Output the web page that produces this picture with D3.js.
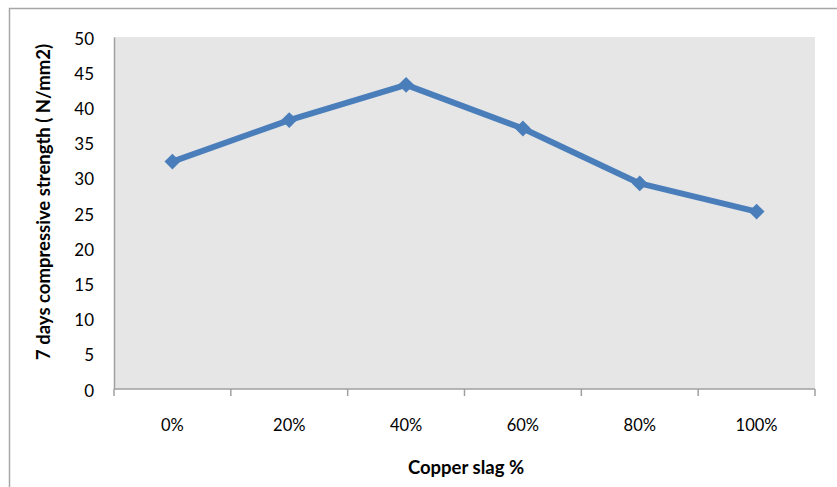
<!DOCTYPE html>
<html>
<head>
<meta charset="utf-8">
<script src="https://cdn.jsdelivr.net/npm/d3@7"></script>
<style>
  html, body { margin: 0; padding: 0; background: #fff; }
  svg { display: block; }
  text { font-family: Lato, "Open Sans", sans-serif; fill: #000; }
</style>
</head>
<body>
<svg id="chart" width="837" height="487"></svg>
<script>
// Copper slag replacement level vs. 7-day compressive strength
const categories = ["0%", "20%", "40%", "60%", "80%", "100%"];
const strength = [32.3, 38.2, 43.2, 37.0, 29.2, 25.2];
const yTicks = [0, 5, 10, 15, 20, 25, 30, 35, 40, 45, 50];

const width = 837, height = 487;
const margin = { top: 37, right: 22, bottom: 98, left: 114 };
const svg = d3.select("#chart");

// outer frame (top and left edges)
svg.append("path")
  .attr("d", `M9.5,${height} V8.5 H${width}`)
  .attr("fill", "none")
  .attr("stroke", "#a6a6a6")
  .attr("stroke-width", 1.5);

const x = d3.scaleBand()
  .domain(categories)
  .range([margin.left, width - margin.right])
  .paddingInner(0).paddingOuter(0);

const y = d3.scaleLinear()
  .domain([0, 50])
  .range([height - margin.bottom, margin.top]);

// plot area
svg.append("rect")
  .attr("x", margin.left)
  .attr("y", margin.top)
  .attr("width", width - margin.right - margin.left)
  .attr("height", height - margin.bottom - margin.top)
  .attr("fill", "#e6e6e6");

// y axis: line and labels, no tick marks
const yAxis = svg.append("g")
  .attr("transform", `translate(${margin.left},0)`)
  .call(d3.axisLeft(y).tickValues(yTicks).tickSize(0).tickPadding(20));
yAxis.select(".domain").attr("stroke", "#a0a0a0").attr("stroke-width", 1.5);
yAxis.selectAll("text")
  .attr("font-size", 17)
  .attr("font-family", "Lato, sans-serif")
  .attr("dy", "0.42em");

// x axis: ticks at category boundaries
const xAxisG = svg.append("g")
  .attr("transform", `translate(0,${y(0)})`);
xAxisG.append("line")
  .attr("x1", margin.left).attr("x2", width - margin.right)
  .attr("stroke", "#a0a0a0").attr("stroke-width", 1.5);
const bounds = categories.map(c => x(c)).concat([x(categories[categories.length - 1]) + x.bandwidth()]);
xAxisG.selectAll("line.tick")
  .data(bounds)
  .join("line")
  .attr("class", "tick")
  .attr("x1", d => d).attr("x2", d => d)
  .attr("y1", 0).attr("y2", 7)
  .attr("stroke", "#a0a0a0").attr("stroke-width", 1.5);
xAxisG.selectAll("text.lbl")
  .data(categories)
  .join("text")
  .attr("class", "lbl")
  .attr("x", d => x(d) + x.bandwidth() / 2)
  .attr("y", 42)
  .attr("text-anchor", "middle")
  .attr("font-size", 16.5)
  .text(d => d);

// axis titles
svg.append("text")
  .attr("x", 466)
  .attr("y", 474)
  .attr("text-anchor", "middle")
  .attr("font-size", 18.5)
  .attr("font-weight", "bold")
  .text("Copper slag %");

svg.append("text")
  .attr("transform", `translate(50,202) rotate(-90)`)
  .attr("text-anchor", "middle")
  .attr("font-size", 18.5)
  .attr("font-weight", "bold")
  .text("7 days compressive strength ( N/mm2)");

// series line and diamond markers
const pts = categories.map((c, i) => [x(c) + x.bandwidth() / 2, y(strength[i])]);
svg.append("path")
  .attr("d", d3.line()(pts))
  .attr("fill", "none")
  .attr("stroke", "#4a7ebb")
  .attr("stroke-width", 6)
  .attr("stroke-linejoin", "round");

svg.selectAll("path.marker")
  .data(pts)
  .join("path")
  .attr("class", "marker")
  .attr("transform", d => `translate(${d[0]},${d[1]})`)
  .attr("d", d3.symbol().type(d3.symbolDiamond2).size(160))
  .attr("fill", "#4a7ebb");
</script>
</body>
</html>
